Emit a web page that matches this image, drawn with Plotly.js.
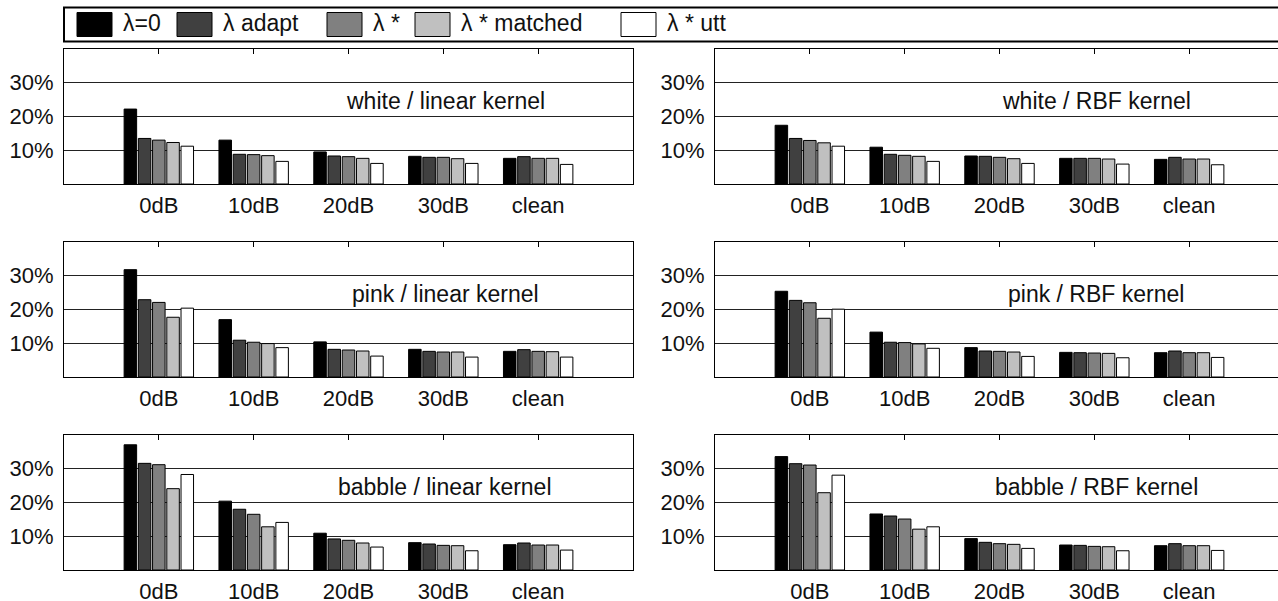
<!DOCTYPE html>
<html>
<head>
<meta charset="utf-8">
<script src="https://cdn.plot.ly/plotly-3.0.1.min.js"></script>
<style>
html, body { margin:0; padding:0; overflow:hidden; background:#fff; }
#chart { width:1290px; height:601px; }
</style>
</head>
<body>
<div id="chart"></div>
<script>
// ---- data ----
const categories = ['0dB', '10dB', '20dB', '30dB', 'clean'];
const seriesNames = ['λ=0', 'λ adapt', 'λ *', 'λ * matched', 'λ * utt'];
const yTickValues = [10, 20, 30];
const yTickLabels = ['10%', '20%', '30%'];
const panelTitles = ['white / linear kernel', 'white / RBF kernel',
                     'pink / linear kernel', 'pink / RBF kernel',
                     'babble / linear kernel', 'babble / RBF kernel'];

// each panel: one row per series (λ=0, λ adapt, λ*, λ* matched, λ* utt), values per category
const whiteLinear = [
  [22.2, 13.0, 9.5, 8.2, 7.6],
  [13.5, 8.8, 8.3, 7.9, 8.1],
  [13.0, 8.7, 8.1, 7.9, 7.6],
  [12.3, 8.4, 7.6, 7.5, 7.6],
  [11.2, 6.7, 6.1, 6.1, 5.8]
];
const whiteRBF = [
  [17.4, 10.9, 8.3, 7.6, 7.3],
  [13.5, 8.8, 8.2, 7.6, 7.9],
  [12.9, 8.5, 7.9, 7.6, 7.4],
  [12.2, 8.2, 7.5, 7.4, 7.4],
  [11.2, 6.7, 6.1, 5.9, 5.7]
];
const pinkLinear = [
  [31.8, 17.0, 10.4, 8.2, 7.6],
  [22.9, 10.9, 8.2, 7.6, 8.1],
  [22.1, 10.3, 8.0, 7.4, 7.6],
  [17.7, 9.9, 7.7, 7.4, 7.5],
  [20.4, 8.7, 6.2, 5.9, 5.9]
];
const pinkRBF = [
  [25.4, 13.3, 8.7, 7.3, 7.2],
  [22.7, 10.3, 7.7, 7.2, 7.7],
  [22.0, 10.2, 7.6, 7.1, 7.2],
  [17.4, 9.8, 7.4, 7.0, 7.2],
  [20.1, 8.5, 6.1, 5.7, 5.8]
];
const babbleLinear = [
  [37.1, 20.4, 10.9, 8.1, 7.5],
  [31.6, 18.0, 9.2, 7.7, 8.0],
  [31.2, 16.5, 8.8, 7.3, 7.4],
  [24.1, 12.8, 8.0, 7.2, 7.4],
  [28.3, 14.1, 6.8, 5.7, 5.9]
];
const babbleRBF = [
  [33.6, 16.6, 9.3, 7.4, 7.2],
  [31.5, 16.0, 8.2, 7.3, 7.8],
  [31.1, 15.1, 7.8, 7.0, 7.2],
  [22.9, 12.1, 7.6, 6.9, 7.2],
  [28.1, 12.8, 6.4, 5.7, 5.8]
];
const panels = [whiteLinear, whiteRBF, pinkLinear, pinkRBF, babbleLinear, babbleRBF];

// ---- styles / layout ----
const seriesColors = ['#000000', '#404040', '#808080', '#c0c0c0', '#ffffff'];
const W = 1290, H = 601;
const FONT = '"Liberation Sans", Arial, Helvetica, sans-serif';
const TXT = '#111';
const colX = [[64, 633], [715, 1284]];
const rowY = [[49, 184], [242, 377], [435, 570]];

const traces = [];
const layout = {
  width: W, height: H,
  margin: {l: 0, r: 0, t: 0, b: 0},
  paper_bgcolor: '#fff', plot_bgcolor: '#fff',
  barmode: 'group', bargap: 0.25, bargroupgap: 0.12,
  showlegend: false,
  font: {family: FONT, size: 22, color: TXT},
  annotations: [], shapes: []
};

panels.forEach((panel, p) => {
  const id = p === 0 ? '' : String(p + 1);
  const col = p % 2, row = Math.floor(p / 2);
  panel.forEach((vals, s) => {
    traces.push({
      type: 'bar', x: categories, y: vals, name: seriesNames[s],
      xaxis: 'x' + id, yaxis: 'y' + id,
      marker: {color: seriesColors[s], line: {color: '#000', width: 1}},
      hoverinfo: 'x+y+name'
    });
  });
  layout['xaxis' + id] = {
    domain: [colX[col][0] / W, colX[col][1] / W],
    anchor: 'y' + id, type: 'category', range: [-1, 5],
    showline: true, linecolor: '#000', linewidth: 1, mirror: 'ticks',
    ticks: 'inside', ticklen: 5, tickcolor: '#000', tickwidth: 1,
    tickfont: {family: FONT, size: 22, color: TXT}, ticklabelstandoff: 2,
    showgrid: false, zeroline: false, layer: 'below traces', fixedrange: true
  };
  layout['yaxis' + id] = {
    domain: [1 - rowY[row][1] / H, 1 - rowY[row][0] / H],
    anchor: 'x' + id, range: [0, 40],
    tickmode: 'array', tickvals: yTickValues, ticktext: yTickLabels,
    showline: true, linecolor: '#000', linewidth: 1, mirror: true,
    ticks: '', showgrid: true, gridcolor: '#222', gridwidth: 1,
    zeroline: false, layer: 'below traces',
    tickfont: {family: FONT, size: 22, color: TXT}, ticklabelstandoff: 5,
    fixedrange: true
  };
  layout.annotations.push({
    text: panelTitles[p], xref: 'x' + id, yref: 'y' + id,
    x: 3.02, y: 24.5, xanchor: 'center', yanchor: 'middle', showarrow: false,
    font: {family: FONT, size: 23, color: TXT}
  });
});

// manual legend box
layout.shapes.push({
  type: 'rect', xref: 'paper', yref: 'paper',
  x0: 64 / W, x1: 1284 / W, y0: 1 - 41.5 / H, y1: 1 - 7.5 / H,
  line: {color: '#000', width: 2}, fillcolor: 'rgba(0,0,0,0)'
});
const swatchLeft = [77, 177, 327, 415, 621];
seriesNames.forEach((nm, s) => {
  layout.shapes.push({
    type: 'rect', xref: 'paper', yref: 'paper',
    x0: swatchLeft[s] / W, x1: (swatchLeft[s] + 35) / W,
    y0: 1 - 36.5 / H, y1: 1 - 12.5 / H,
    line: {color: '#000', width: 1}, fillcolor: seriesColors[s]
  });
  layout.annotations.push({
    text: nm, xref: 'paper', yref: 'paper',
    x: (swatchLeft[s] + 44) / W, y: 1 - 23 / H,
    xanchor: 'left', yanchor: 'middle', showarrow: false,
    font: {family: FONT, size: 23, color: TXT}
  });
});

Plotly.newPlot('chart', traces, layout, {staticPlot: true, displayModeBar: false});
</script>
</body>
</html>
